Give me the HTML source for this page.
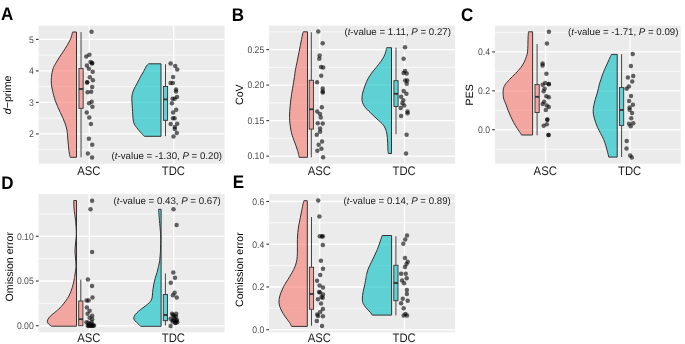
<!DOCTYPE html>
<html><head><meta charset="utf-8"><style>
html,body{margin:0;padding:0;background:#fff;width:685px;height:344px;overflow:hidden;font-family:"Liberation Sans",sans-serif;}
svg{display:block;will-change:transform;text-rendering:geometricPrecision;}
</style></head><body>
<svg width="685" height="344" viewBox="0 0 685 344" font-family="Liberation Sans, sans-serif">
<rect width="685" height="344" fill="#fff"/>
<rect x="38.6" y="25.7" width="186.00" height="138.00" fill="#EBEBEB"/>
<line x1="38.6" y1="149.65" x2="224.6" y2="149.65" stroke="#fff" stroke-width="0.7"/>
<line x1="38.6" y1="118.15" x2="224.6" y2="118.15" stroke="#fff" stroke-width="0.7"/>
<line x1="38.6" y1="86.65" x2="224.6" y2="86.65" stroke="#fff" stroke-width="0.7"/>
<line x1="38.6" y1="55.15" x2="224.6" y2="55.15" stroke="#fff" stroke-width="0.7"/>
<line x1="38.6" y1="133.9" x2="224.6" y2="133.9" stroke="#fff" stroke-width="1.35"/>
<line x1="38.6" y1="102.4" x2="224.6" y2="102.4" stroke="#fff" stroke-width="1.35"/>
<line x1="38.6" y1="70.9" x2="224.6" y2="70.9" stroke="#fff" stroke-width="1.35"/>
<line x1="38.6" y1="39.4" x2="224.6" y2="39.4" stroke="#fff" stroke-width="1.35"/>
<line x1="89.3" y1="25.7" x2="89.3" y2="163.7" stroke="#fff" stroke-width="1.35"/>
<line x1="173.8" y1="25.7" x2="173.8" y2="163.7" stroke="#fff" stroke-width="1.35"/>
<line x1="35.90" y1="133.9" x2="38.6" y2="133.9" stroke="#333" stroke-width="1.1"/>
<text transform="translate(33.70,137.20) scale(1,1.1)" font-size="8.65" fill="#4D4D4D" text-anchor="end">2</text>
<line x1="35.90" y1="102.4" x2="38.6" y2="102.4" stroke="#333" stroke-width="1.1"/>
<text transform="translate(33.70,105.70) scale(1,1.1)" font-size="8.65" fill="#4D4D4D" text-anchor="end">3</text>
<line x1="35.90" y1="70.9" x2="38.6" y2="70.9" stroke="#333" stroke-width="1.1"/>
<text transform="translate(33.70,74.20) scale(1,1.1)" font-size="8.65" fill="#4D4D4D" text-anchor="end">4</text>
<line x1="35.90" y1="39.4" x2="38.6" y2="39.4" stroke="#333" stroke-width="1.1"/>
<text transform="translate(33.70,42.70) scale(1,1.1)" font-size="8.65" fill="#4D4D4D" text-anchor="end">5</text>
<text transform="translate(88.90,174.60) scale(1,1.1)" font-size="11.3" fill="#1A1A1A" text-anchor="middle">ASC</text>
<text transform="translate(173.40,174.60) scale(1,1.1)" font-size="11.3" fill="#1A1A1A" text-anchor="middle">TDC</text>
<rect x="269.1" y="25.7" width="186.00" height="138.00" fill="#EBEBEB"/>
<line x1="269.1" y1="138.35" x2="455.1" y2="138.35" stroke="#fff" stroke-width="0.7"/>
<line x1="269.1" y1="102.85" x2="455.1" y2="102.85" stroke="#fff" stroke-width="0.7"/>
<line x1="269.1" y1="67.35" x2="455.1" y2="67.35" stroke="#fff" stroke-width="0.7"/>
<line x1="269.1" y1="31.85" x2="455.1" y2="31.85" stroke="#fff" stroke-width="0.7"/>
<line x1="269.1" y1="156.1" x2="455.1" y2="156.1" stroke="#fff" stroke-width="1.35"/>
<line x1="269.1" y1="120.6" x2="455.1" y2="120.6" stroke="#fff" stroke-width="1.35"/>
<line x1="269.1" y1="85.1" x2="455.1" y2="85.1" stroke="#fff" stroke-width="1.35"/>
<line x1="269.1" y1="49.6" x2="455.1" y2="49.6" stroke="#fff" stroke-width="1.35"/>
<line x1="319.7" y1="25.7" x2="319.7" y2="163.7" stroke="#fff" stroke-width="1.35"/>
<line x1="404.5" y1="25.7" x2="404.5" y2="163.7" stroke="#fff" stroke-width="1.35"/>
<line x1="266.40" y1="156.1" x2="269.1" y2="156.1" stroke="#333" stroke-width="1.1"/>
<text transform="translate(264.20,159.40) scale(1,1.1)" font-size="8.65" fill="#4D4D4D" text-anchor="end">0.10</text>
<line x1="266.40" y1="120.6" x2="269.1" y2="120.6" stroke="#333" stroke-width="1.1"/>
<text transform="translate(264.20,123.90) scale(1,1.1)" font-size="8.65" fill="#4D4D4D" text-anchor="end">0.15</text>
<line x1="266.40" y1="85.1" x2="269.1" y2="85.1" stroke="#333" stroke-width="1.1"/>
<text transform="translate(264.20,88.40) scale(1,1.1)" font-size="8.65" fill="#4D4D4D" text-anchor="end">0.20</text>
<line x1="266.40" y1="49.6" x2="269.1" y2="49.6" stroke="#333" stroke-width="1.1"/>
<text transform="translate(264.20,52.90) scale(1,1.1)" font-size="8.65" fill="#4D4D4D" text-anchor="end">0.25</text>
<text transform="translate(319.30,174.60) scale(1,1.1)" font-size="11.3" fill="#1A1A1A" text-anchor="middle">ASC</text>
<text transform="translate(404.10,174.60) scale(1,1.1)" font-size="11.3" fill="#1A1A1A" text-anchor="middle">TDC</text>
<rect x="494.9" y="25.7" width="185.90" height="138.00" fill="#EBEBEB"/>
<line x1="494.9" y1="149.15" x2="680.8" y2="149.15" stroke="#fff" stroke-width="0.7"/>
<line x1="494.9" y1="110.25" x2="680.8" y2="110.25" stroke="#fff" stroke-width="0.7"/>
<line x1="494.9" y1="71.35" x2="680.8" y2="71.35" stroke="#fff" stroke-width="0.7"/>
<line x1="494.9" y1="32.45" x2="680.8" y2="32.45" stroke="#fff" stroke-width="0.7"/>
<line x1="494.9" y1="129.7" x2="680.8" y2="129.7" stroke="#fff" stroke-width="1.35"/>
<line x1="494.9" y1="90.8" x2="680.8" y2="90.8" stroke="#fff" stroke-width="1.35"/>
<line x1="494.9" y1="51.9" x2="680.8" y2="51.9" stroke="#fff" stroke-width="1.35"/>
<line x1="545.6" y1="25.7" x2="545.6" y2="163.7" stroke="#fff" stroke-width="1.35"/>
<line x1="630.0" y1="25.7" x2="630.0" y2="163.7" stroke="#fff" stroke-width="1.35"/>
<line x1="492.20" y1="129.7" x2="494.9" y2="129.7" stroke="#333" stroke-width="1.1"/>
<text transform="translate(490.00,133.00) scale(1,1.1)" font-size="8.65" fill="#4D4D4D" text-anchor="end">0.0</text>
<line x1="492.20" y1="90.8" x2="494.9" y2="90.8" stroke="#333" stroke-width="1.1"/>
<text transform="translate(490.00,94.10) scale(1,1.1)" font-size="8.65" fill="#4D4D4D" text-anchor="end">0.2</text>
<line x1="492.20" y1="51.9" x2="494.9" y2="51.9" stroke="#333" stroke-width="1.1"/>
<text transform="translate(490.00,55.20) scale(1,1.1)" font-size="8.65" fill="#4D4D4D" text-anchor="end">0.4</text>
<text transform="translate(545.20,174.60) scale(1,1.1)" font-size="11.3" fill="#1A1A1A" text-anchor="middle">ASC</text>
<text transform="translate(629.60,174.60) scale(1,1.1)" font-size="11.3" fill="#1A1A1A" text-anchor="middle">TDC</text>
<rect x="38.6" y="194.1" width="186.00" height="138.20" fill="#EBEBEB"/>
<line x1="38.6" y1="303.35" x2="224.6" y2="303.35" stroke="#fff" stroke-width="0.7"/>
<line x1="38.6" y1="258.65" x2="224.6" y2="258.65" stroke="#fff" stroke-width="0.7"/>
<line x1="38.6" y1="213.95" x2="224.6" y2="213.95" stroke="#fff" stroke-width="0.7"/>
<line x1="38.6" y1="325.7" x2="224.6" y2="325.7" stroke="#fff" stroke-width="1.35"/>
<line x1="38.6" y1="281.0" x2="224.6" y2="281.0" stroke="#fff" stroke-width="1.35"/>
<line x1="38.6" y1="236.3" x2="224.6" y2="236.3" stroke="#fff" stroke-width="1.35"/>
<line x1="89.3" y1="194.1" x2="89.3" y2="332.3" stroke="#fff" stroke-width="1.35"/>
<line x1="173.8" y1="194.1" x2="173.8" y2="332.3" stroke="#fff" stroke-width="1.35"/>
<line x1="35.90" y1="325.7" x2="38.6" y2="325.7" stroke="#333" stroke-width="1.1"/>
<text transform="translate(33.70,329.00) scale(1,1.1)" font-size="8.65" fill="#4D4D4D" text-anchor="end">0.00</text>
<line x1="35.90" y1="281.0" x2="38.6" y2="281.0" stroke="#333" stroke-width="1.1"/>
<text transform="translate(33.70,284.30) scale(1,1.1)" font-size="8.65" fill="#4D4D4D" text-anchor="end">0.05</text>
<line x1="35.90" y1="236.3" x2="38.6" y2="236.3" stroke="#333" stroke-width="1.1"/>
<text transform="translate(33.70,239.60) scale(1,1.1)" font-size="8.65" fill="#4D4D4D" text-anchor="end">0.10</text>
<text transform="translate(88.90,342.00) scale(1,1.1)" font-size="11.3" fill="#1A1A1A" text-anchor="middle">ASC</text>
<text transform="translate(173.40,342.00) scale(1,1.1)" font-size="11.3" fill="#1A1A1A" text-anchor="middle">TDC</text>
<rect x="269.1" y="194.1" width="186.00" height="138.20" fill="#EBEBEB"/>
<line x1="269.1" y1="308.3" x2="455.1" y2="308.3" stroke="#fff" stroke-width="0.7"/>
<line x1="269.1" y1="265.6" x2="455.1" y2="265.6" stroke="#fff" stroke-width="0.7"/>
<line x1="269.1" y1="222.8" x2="455.1" y2="222.8" stroke="#fff" stroke-width="0.7"/>
<line x1="269.1" y1="329.7" x2="455.1" y2="329.7" stroke="#fff" stroke-width="1.35"/>
<line x1="269.1" y1="286.95" x2="455.1" y2="286.95" stroke="#fff" stroke-width="1.35"/>
<line x1="269.1" y1="244.2" x2="455.1" y2="244.2" stroke="#fff" stroke-width="1.35"/>
<line x1="269.1" y1="201.45" x2="455.1" y2="201.45" stroke="#fff" stroke-width="1.35"/>
<line x1="319.7" y1="194.1" x2="319.7" y2="332.3" stroke="#fff" stroke-width="1.35"/>
<line x1="404.5" y1="194.1" x2="404.5" y2="332.3" stroke="#fff" stroke-width="1.35"/>
<line x1="266.40" y1="329.7" x2="269.1" y2="329.7" stroke="#333" stroke-width="1.1"/>
<text transform="translate(264.20,333.00) scale(1,1.1)" font-size="8.65" fill="#4D4D4D" text-anchor="end">0.0</text>
<line x1="266.40" y1="286.95" x2="269.1" y2="286.95" stroke="#333" stroke-width="1.1"/>
<text transform="translate(264.20,290.25) scale(1,1.1)" font-size="8.65" fill="#4D4D4D" text-anchor="end">0.2</text>
<line x1="266.40" y1="244.2" x2="269.1" y2="244.2" stroke="#333" stroke-width="1.1"/>
<text transform="translate(264.20,247.50) scale(1,1.1)" font-size="8.65" fill="#4D4D4D" text-anchor="end">0.4</text>
<line x1="266.40" y1="201.45" x2="269.1" y2="201.45" stroke="#333" stroke-width="1.1"/>
<text transform="translate(264.20,204.75) scale(1,1.1)" font-size="8.65" fill="#4D4D4D" text-anchor="end">0.6</text>
<text transform="translate(319.30,342.00) scale(1,1.1)" font-size="11.3" fill="#1A1A1A" text-anchor="middle">ASC</text>
<text transform="translate(404.10,342.00) scale(1,1.1)" font-size="11.3" fill="#1A1A1A" text-anchor="middle">TDC</text>
<path d="M76.50,32.00 L72.60,32.00 C72.52,32.30 72.33,32.92 72.10,33.80 C71.87,34.68 71.60,36.13 71.20,37.30 C70.80,38.47 70.38,39.45 69.70,40.80 C69.02,42.15 68.15,43.65 67.10,45.40 C66.05,47.15 64.67,49.35 63.40,51.30 C62.13,53.25 60.73,55.17 59.50,57.10 C58.27,59.03 57.00,61.17 56.00,62.90 C55.00,64.63 54.15,65.90 53.50,67.50 C52.85,69.10 52.45,70.85 52.10,72.50 C51.75,74.15 51.52,75.42 51.40,77.40 C51.28,79.38 51.18,82.08 51.40,84.40 C51.62,86.72 52.32,89.45 52.70,91.30 C53.08,93.15 53.27,93.92 53.70,95.50 C54.13,97.08 54.65,98.95 55.30,100.80 C55.95,102.65 56.77,104.67 57.60,106.60 C58.43,108.53 59.40,110.45 60.30,112.40 C61.20,114.35 62.17,116.35 63.00,118.30 C63.83,120.25 64.65,122.17 65.30,124.10 C65.95,126.03 66.53,128.07 66.90,129.90 C67.27,131.73 67.33,133.38 67.50,135.10 C67.67,136.82 67.75,138.50 67.90,140.20 C68.05,141.90 68.23,143.62 68.40,145.30 C68.57,146.98 68.68,148.62 68.90,150.30 C69.12,151.98 69.47,154.23 69.70,155.40 C69.93,156.57 70.20,156.98 70.30,157.30 L76.50,157.30 Z" fill="#F8766D" fill-opacity="0.6" stroke="#333" stroke-width="1.0" stroke-linejoin="round"/>
<path d="M161.00,63.80 L148.70,63.80 C148.35,64.13 147.47,64.50 146.60,65.80 C145.73,67.10 144.57,69.67 143.50,71.60 C142.43,73.53 141.27,75.45 140.20,77.40 C139.13,79.35 138.13,81.35 137.10,83.30 C136.07,85.25 134.78,87.37 134.00,89.10 C133.22,90.83 132.77,92.15 132.40,93.70 C132.03,95.25 131.83,96.38 131.80,98.40 C131.77,100.42 132.07,103.60 132.20,105.80 C132.33,108.00 132.48,109.67 132.60,111.60 C132.72,113.53 132.73,115.65 132.90,117.40 C133.07,119.15 133.22,120.73 133.60,122.10 C133.98,123.47 134.48,124.43 135.20,125.60 C135.92,126.77 136.97,127.93 137.90,129.10 C138.83,130.27 139.93,131.63 140.80,132.60 C141.67,133.57 142.52,134.28 143.10,134.90 C143.68,135.52 144.10,136.07 144.30,136.30 L161.00,136.30 Z" fill="#00BFC4" fill-opacity="0.6" stroke="#333" stroke-width="1.0" stroke-linejoin="round"/>
<path d="M307.50,31.80 L303.30,31.80 C303.20,32.13 303.00,32.50 302.70,33.80 C302.40,35.10 301.90,37.67 301.50,39.60 C301.10,41.53 300.68,43.45 300.30,45.40 C299.92,47.35 299.58,49.35 299.20,51.30 C298.82,53.25 298.38,55.17 298.00,57.10 C297.62,59.03 297.25,61.17 296.90,62.90 C296.55,64.63 296.17,66.18 295.90,67.50 C295.63,68.82 295.53,69.28 295.30,70.80 C295.07,72.32 294.78,74.67 294.50,76.60 C294.22,78.53 293.92,80.45 293.60,82.40 C293.28,84.35 292.93,86.35 292.60,88.30 C292.27,90.25 291.90,92.17 291.60,94.10 C291.30,96.03 291.03,97.95 290.80,99.90 C290.57,101.85 290.38,103.85 290.20,105.80 C290.02,107.75 289.82,109.67 289.70,111.60 C289.58,113.53 289.47,115.45 289.50,117.40 C289.53,119.35 289.70,121.35 289.90,123.30 C290.10,125.25 290.33,127.13 290.70,129.10 C291.07,131.07 291.57,133.25 292.10,135.10 C292.63,136.95 293.28,138.50 293.90,140.20 C294.52,141.90 295.20,143.62 295.80,145.30 C296.40,146.98 297.00,148.62 297.50,150.30 C298.00,151.98 298.53,154.23 298.80,155.40 C299.07,156.57 299.05,156.98 299.10,157.30 L307.50,157.30 Z" fill="#F8766D" fill-opacity="0.6" stroke="#333" stroke-width="1.0" stroke-linejoin="round"/>
<path d="M391.50,47.70 L386.70,47.70 C386.62,48.05 386.43,48.87 386.20,49.80 C385.97,50.73 385.70,52.13 385.30,53.30 C384.90,54.47 384.53,55.45 383.80,56.80 C383.07,58.15 382.15,59.65 380.90,61.40 C379.65,63.15 377.85,65.35 376.30,67.30 C374.75,69.25 373.00,71.17 371.60,73.10 C370.20,75.03 368.87,77.17 367.90,78.90 C366.93,80.63 366.52,81.70 365.80,83.50 C365.08,85.30 364.17,87.90 363.60,89.70 C363.03,91.50 362.67,92.75 362.40,94.30 C362.13,95.85 361.98,97.65 362.00,99.00 C362.02,100.35 362.13,101.25 362.50,102.40 C362.87,103.55 363.45,104.73 364.20,105.90 C364.95,107.07 365.93,108.23 367.00,109.40 C368.07,110.57 369.40,111.73 370.60,112.90 C371.80,114.07 372.93,115.22 374.20,116.40 C375.47,117.58 376.90,118.82 378.20,120.00 C379.50,121.18 380.93,122.33 382.00,123.50 C383.07,124.67 383.87,125.65 384.60,127.00 C385.33,128.35 385.95,129.87 386.40,131.60 C386.85,133.33 387.08,135.45 387.30,137.40 C387.52,139.35 387.60,141.35 387.70,143.30 C387.80,145.25 387.80,147.40 387.90,149.10 C388.00,150.80 388.23,152.77 388.30,153.50 L391.50,153.50 Z" fill="#00BFC4" fill-opacity="0.6" stroke="#333" stroke-width="1.0" stroke-linejoin="round"/>
<path d="M532.60,31.80 L528.50,31.80 C528.47,32.13 528.38,32.50 528.30,33.80 C528.22,35.10 528.07,37.67 528.00,39.60 C527.93,41.53 527.97,43.45 527.90,45.40 C527.83,47.35 527.75,49.75 527.60,51.30 C527.45,52.85 527.30,53.55 527.00,54.70 C526.70,55.85 526.30,56.90 525.80,58.20 C525.30,59.50 524.83,60.93 524.00,62.50 C523.17,64.07 522.23,65.75 520.80,67.60 C519.37,69.45 517.27,71.63 515.40,73.60 C513.53,75.57 511.38,77.45 509.60,79.40 C507.82,81.35 505.77,83.55 504.70,85.30 C503.63,87.05 503.45,88.35 503.20,89.90 C502.95,91.45 503.10,93.05 503.20,94.60 C503.30,96.15 503.35,97.62 503.80,99.20 C504.25,100.78 505.20,102.27 505.90,104.10 C506.60,105.93 507.22,108.17 508.00,110.20 C508.78,112.23 509.67,114.27 510.60,116.30 C511.53,118.33 512.48,120.37 513.60,122.40 C514.72,124.43 516.13,126.67 517.30,128.50 C518.47,130.33 519.92,132.32 520.60,133.40 C521.28,134.48 521.27,134.73 521.40,135.00 L532.60,135.00 Z" fill="#F8766D" fill-opacity="0.6" stroke="#333" stroke-width="1.0" stroke-linejoin="round"/>
<path d="M617.20,54.40 L611.50,54.40 C611.12,55.22 609.93,57.70 609.20,59.30 C608.47,60.90 607.80,62.45 607.10,64.00 C606.40,65.55 605.68,67.05 605.00,68.60 C604.32,70.15 603.67,71.55 603.00,73.30 C602.33,75.05 601.63,77.17 601.00,79.10 C600.37,81.03 599.63,83.33 599.20,84.90 C598.77,86.47 598.77,87.02 598.40,88.50 C598.03,89.98 597.53,91.95 597.00,93.80 C596.47,95.65 595.73,97.67 595.20,99.60 C594.67,101.53 594.15,103.45 593.80,105.40 C593.45,107.35 593.07,109.35 593.10,111.30 C593.13,113.25 593.58,115.23 594.00,117.10 C594.42,118.97 594.98,120.73 595.60,122.50 C596.22,124.27 596.85,125.85 597.70,127.70 C598.55,129.55 599.72,131.65 600.70,133.60 C601.68,135.55 602.77,137.45 603.60,139.40 C604.43,141.35 605.08,143.35 605.70,145.30 C606.32,147.25 606.78,149.13 607.30,151.10 C607.82,153.07 608.55,156.10 608.80,157.10 L617.20,157.10 Z" fill="#00BFC4" fill-opacity="0.6" stroke="#333" stroke-width="1.0" stroke-linejoin="round"/>
<path d="M76.50,200.50 L73.80,200.50 C73.83,201.77 73.83,205.75 74.00,208.10 C74.17,210.45 74.52,212.43 74.80,214.60 C75.08,216.77 75.48,218.92 75.70,221.10 C75.92,223.28 76.00,225.38 76.10,227.70 C76.20,230.02 76.38,232.45 76.30,235.00 C76.22,237.55 75.82,240.33 75.60,243.00 C75.38,245.67 75.00,248.33 75.00,251.00 C75.00,253.67 75.43,256.33 75.60,259.00 C75.77,261.67 76.12,264.33 76.00,267.00 C75.88,269.67 75.22,272.83 74.90,275.00 C74.58,277.17 74.53,277.92 74.10,280.00 C73.67,282.08 73.18,284.80 72.30,287.50 C71.42,290.20 70.40,293.30 68.80,296.20 C67.20,299.10 64.58,302.57 62.70,304.90 C60.82,307.23 59.25,308.60 57.50,310.20 C55.75,311.80 53.67,313.20 52.20,314.50 C50.73,315.80 49.52,316.83 48.70,318.00 C47.88,319.17 47.30,320.48 47.30,321.50 C47.30,322.52 48.02,323.32 48.70,324.10 C49.38,324.88 50.95,325.85 51.40,326.20 L76.50,326.20 Z" fill="#F8766D" fill-opacity="0.6" stroke="#333" stroke-width="1.0" stroke-linejoin="round"/>
<path d="M161.10,209.30 L158.60,209.30 C158.70,210.72 158.93,214.52 159.20,217.80 C159.47,221.08 159.95,225.80 160.20,229.00 C160.45,232.20 160.65,233.53 160.70,237.00 C160.75,240.47 160.58,246.80 160.50,249.80 C160.42,252.80 160.33,253.17 160.20,255.00 C160.07,256.83 159.98,258.87 159.70,260.80 C159.42,262.73 158.95,264.67 158.50,266.60 C158.05,268.53 157.55,270.45 157.00,272.40 C156.45,274.35 155.73,276.35 155.20,278.30 C154.67,280.25 154.18,282.17 153.80,284.10 C153.42,286.03 153.13,288.08 152.90,289.90 C152.67,291.72 152.58,293.48 152.40,295.00 C152.22,296.52 152.28,297.75 151.80,299.00 C151.32,300.25 150.57,301.33 149.50,302.50 C148.43,303.67 146.85,304.85 145.40,306.00 C143.95,307.15 142.25,308.25 140.80,309.40 C139.35,310.55 137.80,311.73 136.70,312.90 C135.60,314.07 134.65,315.33 134.20,316.40 C133.75,317.47 133.63,318.33 134.00,319.30 C134.37,320.27 135.57,321.32 136.40,322.20 C137.23,323.08 138.30,323.92 139.00,324.60 C139.70,325.28 140.33,326.02 140.60,326.30 L161.10,326.30 Z" fill="#00BFC4" fill-opacity="0.6" stroke="#333" stroke-width="1.0" stroke-linejoin="round"/>
<path d="M307.30,200.70 L303.90,200.70 C303.78,201.13 303.57,201.65 303.20,203.30 C302.83,204.95 302.18,208.18 301.70,210.60 C301.22,213.02 300.78,215.38 300.30,217.80 C299.82,220.22 299.22,222.67 298.80,225.10 C298.38,227.53 298.03,229.97 297.80,232.40 C297.57,234.83 297.47,237.35 297.40,239.70 C297.33,242.05 297.40,244.27 297.40,246.50 C297.40,248.73 297.48,250.92 297.40,253.10 C297.32,255.28 297.27,257.43 296.90,259.60 C296.53,261.77 296.02,263.92 295.20,266.10 C294.38,268.28 293.18,270.52 292.00,272.70 C290.82,274.88 289.30,277.25 288.10,279.20 C286.90,281.15 285.73,282.77 284.80,284.40 C283.87,286.03 283.33,287.07 282.50,289.00 C281.67,290.93 280.38,293.67 279.80,296.00 C279.22,298.33 278.78,300.68 279.00,303.00 C279.22,305.32 280.05,307.58 281.10,309.90 C282.15,312.22 283.90,314.80 285.30,316.90 C286.70,319.00 288.45,320.92 289.50,322.50 C290.55,324.08 291.25,325.75 291.60,326.40 L307.30,326.40 Z" fill="#F8766D" fill-opacity="0.6" stroke="#333" stroke-width="1.0" stroke-linejoin="round"/>
<path d="M391.60,235.50 L382.20,235.50 C381.98,236.12 381.33,237.93 380.90,239.20 C380.47,240.47 380.20,241.37 379.60,243.10 C379.00,244.83 378.18,247.43 377.30,249.60 C376.42,251.77 375.33,253.92 374.30,256.10 C373.27,258.28 372.13,260.52 371.10,262.70 C370.07,264.88 368.85,267.25 368.10,269.20 C367.35,271.15 366.93,273.05 366.60,274.40 C366.27,275.75 366.40,275.62 366.10,277.30 C365.80,278.98 365.30,282.08 364.80,284.50 C364.30,286.92 363.52,289.37 363.10,291.80 C362.68,294.23 362.28,297.15 362.30,299.10 C362.32,301.05 362.57,302.05 363.20,303.50 C363.83,304.95 364.93,306.35 366.10,307.80 C367.27,309.25 369.18,310.98 370.20,312.20 C371.22,313.42 371.87,314.62 372.20,315.10 L391.60,315.10 Z" fill="#00BFC4" fill-opacity="0.6" stroke="#333" stroke-width="1.0" stroke-linejoin="round"/>
<line x1="81.05" y1="32.2" x2="81.05" y2="68.6" stroke="#333" stroke-width="0.9"/>
<line x1="81.05" y1="108.3" x2="81.05" y2="157.3" stroke="#333" stroke-width="0.9"/>
<rect x="78.95" y="68.6" width="4.20" height="39.70" fill="#F8766D" fill-opacity="0.6" stroke="#333" stroke-width="0.9"/>
<line x1="78.95" y1="89.0" x2="83.15" y2="89.0" stroke="#333" stroke-width="1.8"/>
<line x1="165.5" y1="64.2" x2="165.5" y2="86.5" stroke="#333" stroke-width="0.9"/>
<line x1="165.5" y1="120.3" x2="165.5" y2="136.1" stroke="#333" stroke-width="0.9"/>
<rect x="163.4" y="86.5" width="4.20" height="33.80" fill="#00BFC4" fill-opacity="0.6" stroke="#333" stroke-width="0.9"/>
<line x1="163.4" y1="99.4" x2="167.6" y2="99.4" stroke="#333" stroke-width="1.8"/>
<line x1="311.3" y1="32.3" x2="311.3" y2="80.3" stroke="#333" stroke-width="0.9"/>
<line x1="311.3" y1="129.1" x2="311.3" y2="157.3" stroke="#333" stroke-width="0.9"/>
<rect x="309.2" y="80.3" width="4.20" height="48.80" fill="#F8766D" fill-opacity="0.6" stroke="#333" stroke-width="0.9"/>
<line x1="309.2" y1="109.3" x2="313.4" y2="109.3" stroke="#333" stroke-width="1.8"/>
<line x1="396.0" y1="47.7" x2="396.0" y2="80.7" stroke="#333" stroke-width="0.9"/>
<line x1="396.0" y1="106.5" x2="396.0" y2="134.2" stroke="#333" stroke-width="0.9"/>
<rect x="393.9" y="80.7" width="4.20" height="25.80" fill="#00BFC4" fill-opacity="0.6" stroke="#333" stroke-width="0.9"/>
<line x1="393.9" y1="93.8" x2="398.1" y2="93.8" stroke="#333" stroke-width="1.8"/>
<line x1="537.1" y1="44.0" x2="537.1" y2="84.6" stroke="#333" stroke-width="0.9"/>
<line x1="537.1" y1="112.5" x2="537.1" y2="135.3" stroke="#333" stroke-width="0.9"/>
<rect x="535.0" y="84.6" width="4.20" height="27.90" fill="#F8766D" fill-opacity="0.6" stroke="#333" stroke-width="0.9"/>
<line x1="535.0" y1="96.8" x2="539.2" y2="96.8" stroke="#333" stroke-width="1.8"/>
<line x1="621.6" y1="54.2" x2="621.6" y2="87.6" stroke="#333" stroke-width="0.9"/>
<line x1="621.6" y1="125.4" x2="621.6" y2="157.0" stroke="#333" stroke-width="0.9"/>
<rect x="619.5" y="87.6" width="4.20" height="37.80" fill="#00BFC4" fill-opacity="0.6" stroke="#333" stroke-width="0.9"/>
<line x1="619.5" y1="110.0" x2="623.7" y2="110.0" stroke="#333" stroke-width="1.8"/>
<line x1="80.8" y1="279.6" x2="80.8" y2="301.0" stroke="#333" stroke-width="0.9"/>
<line x1="80.8" y1="325.7" x2="80.8" y2="325.8" stroke="#333" stroke-width="0.9"/>
<rect x="78.7" y="301.0" width="4.20" height="24.70" fill="#F8766D" fill-opacity="0.6" stroke="#333" stroke-width="0.9"/>
<line x1="78.7" y1="319.2" x2="82.9" y2="319.2" stroke="#333" stroke-width="1.8"/>
<line x1="165.4" y1="273.5" x2="165.4" y2="294.5" stroke="#333" stroke-width="0.9"/>
<line x1="165.4" y1="320.7" x2="165.4" y2="325.6" stroke="#333" stroke-width="0.9"/>
<rect x="163.3" y="294.5" width="4.20" height="26.20" fill="#00BFC4" fill-opacity="0.6" stroke="#333" stroke-width="0.9"/>
<line x1="163.3" y1="315.0" x2="167.5" y2="315.0" stroke="#333" stroke-width="1.8"/>
<line x1="311.5" y1="217.0" x2="311.5" y2="267.2" stroke="#333" stroke-width="0.9"/>
<line x1="311.5" y1="309.2" x2="311.5" y2="325.7" stroke="#333" stroke-width="0.9"/>
<rect x="309.4" y="267.2" width="4.20" height="42.00" fill="#F8766D" fill-opacity="0.6" stroke="#333" stroke-width="0.9"/>
<line x1="309.4" y1="294.0" x2="313.6" y2="294.0" stroke="#333" stroke-width="1.8"/>
<line x1="395.9" y1="236.2" x2="395.9" y2="265.3" stroke="#333" stroke-width="0.9"/>
<line x1="395.9" y1="300.7" x2="395.9" y2="315.4" stroke="#333" stroke-width="0.9"/>
<rect x="393.8" y="265.3" width="4.20" height="35.40" fill="#00BFC4" fill-opacity="0.6" stroke="#333" stroke-width="0.9"/>
<line x1="393.8" y1="283.0" x2="398.0" y2="283.0" stroke="#333" stroke-width="1.8"/>
<g fill="#000" fill-opacity="0.6">
<circle cx="91.5" cy="31.8" r="2.25"/>
<circle cx="89.4" cy="54.7" r="2.25"/>
<circle cx="86.3" cy="56.5" r="2.25"/>
<circle cx="90.5" cy="62.1" r="2.25"/>
<circle cx="92.2" cy="63.1" r="2.25"/>
<circle cx="86.9" cy="65.6" r="2.25"/>
<circle cx="88.9" cy="68.7" r="2.25"/>
<circle cx="92.7" cy="71.7" r="2.25"/>
<circle cx="89.8" cy="77.3" r="2.25"/>
<circle cx="92.9" cy="80.3" r="2.25"/>
<circle cx="87.1" cy="82.4" r="2.25"/>
<circle cx="92.2" cy="87" r="2.25"/>
<circle cx="91.2" cy="91.7" r="2.25"/>
<circle cx="87.6" cy="92.3" r="2.25"/>
<circle cx="91.7" cy="101.7" r="2.25"/>
<circle cx="89.1" cy="103.2" r="2.25"/>
<circle cx="92.4" cy="106.8" r="2.25"/>
<circle cx="86.8" cy="112.4" r="2.25"/>
<circle cx="89.3" cy="117.6" r="2.25"/>
<circle cx="90.9" cy="123.9" r="2.25"/>
<circle cx="88.9" cy="138.8" r="2.25"/>
<circle cx="92.2" cy="144.7" r="2.25"/>
<circle cx="87.9" cy="153.6" r="2.25"/>
<circle cx="92.1" cy="157.5" r="2.25"/>
<circle cx="170.6" cy="63.6" r="2.25"/>
<circle cx="175.2" cy="66.1" r="2.25"/>
<circle cx="177.2" cy="69.4" r="2.25"/>
<circle cx="173.1" cy="77.1" r="2.25"/>
<circle cx="170.6" cy="82.9" r="2.25"/>
<circle cx="172.9" cy="82.9" r="2.25"/>
<circle cx="176" cy="89.5" r="2.25"/>
<circle cx="176" cy="91.6" r="2.25"/>
<circle cx="177" cy="97.1" r="2.25"/>
<circle cx="174.6" cy="98.7" r="2.25"/>
<circle cx="172.6" cy="98.7" r="2.25"/>
<circle cx="171.9" cy="103.2" r="2.25"/>
<circle cx="176.2" cy="109.8" r="2.25"/>
<circle cx="173.1" cy="112.4" r="2.25"/>
<circle cx="173" cy="118.3" r="2.25"/>
<circle cx="174.6" cy="118.3" r="2.25"/>
<circle cx="170.7" cy="124" r="2.25"/>
<circle cx="177.2" cy="123.7" r="2.25"/>
<circle cx="174.8" cy="127" r="2.25"/>
<circle cx="174.8" cy="129" r="2.25"/>
<circle cx="176.8" cy="132.9" r="2.25"/>
<circle cx="173.5" cy="136.4" r="2.25"/>
<circle cx="318.3" cy="31.6" r="2.25"/>
<circle cx="322.7" cy="43.3" r="2.25"/>
<circle cx="319.6" cy="55.4" r="2.25"/>
<circle cx="319.3" cy="58.7" r="2.25"/>
<circle cx="321" cy="67.1" r="2.25"/>
<circle cx="323.2" cy="67.6" r="2.25"/>
<circle cx="321.2" cy="75.8" r="2.25"/>
<circle cx="317.1" cy="82.2" r="2.25"/>
<circle cx="322.7" cy="88.5" r="2.25"/>
<circle cx="322.7" cy="91.5" r="2.25"/>
<circle cx="321.8" cy="107.3" r="2.25"/>
<circle cx="317.2" cy="111.4" r="2.25"/>
<circle cx="320" cy="113.9" r="2.25"/>
<circle cx="320.8" cy="117.5" r="2.25"/>
<circle cx="317.8" cy="123.2" r="2.25"/>
<circle cx="322.7" cy="123.5" r="2.25"/>
<circle cx="320.1" cy="128.5" r="2.25"/>
<circle cx="320.1" cy="131.7" r="2.25"/>
<circle cx="316.8" cy="134.8" r="2.25"/>
<circle cx="322" cy="141.6" r="2.25"/>
<circle cx="318.7" cy="144.8" r="2.25"/>
<circle cx="321.4" cy="148.8" r="2.25"/>
<circle cx="317.4" cy="150.7" r="2.25"/>
<circle cx="323.1" cy="157.3" r="2.25"/>
<circle cx="405" cy="47.3" r="2.25"/>
<circle cx="403.6" cy="58.8" r="2.25"/>
<circle cx="405" cy="70.9" r="2.25"/>
<circle cx="403.6" cy="73" r="2.25"/>
<circle cx="406.7" cy="73.5" r="2.25"/>
<circle cx="405.2" cy="80.6" r="2.25"/>
<circle cx="407.2" cy="80.6" r="2.25"/>
<circle cx="406.7" cy="83.7" r="2.25"/>
<circle cx="403.7" cy="91.1" r="2.25"/>
<circle cx="406.4" cy="93.7" r="2.25"/>
<circle cx="401.1" cy="96.7" r="2.25"/>
<circle cx="403.3" cy="100.2" r="2.25"/>
<circle cx="402.4" cy="103.3" r="2.25"/>
<circle cx="404.2" cy="105.5" r="2.25"/>
<circle cx="400.7" cy="107.9" r="2.25"/>
<circle cx="407.5" cy="111.6" r="2.25"/>
<circle cx="407.5" cy="113.3" r="2.25"/>
<circle cx="401.1" cy="116" r="2.25"/>
<circle cx="406.6" cy="134.7" r="2.25"/>
<circle cx="406" cy="153.4" r="2.25"/>
<circle cx="548.9" cy="31.8" r="2.25"/>
<circle cx="546.9" cy="43.6" r="2.25"/>
<circle cx="542.6" cy="63.6" r="2.25"/>
<circle cx="542.6" cy="65.6" r="2.25"/>
<circle cx="546.4" cy="73.7" r="2.25"/>
<circle cx="545.2" cy="83" r="2.25"/>
<circle cx="548.8" cy="84" r="2.25"/>
<circle cx="542.7" cy="84.8" r="2.25"/>
<circle cx="544.6" cy="88.8" r="2.25"/>
<circle cx="543.6" cy="91.3" r="2.25"/>
<circle cx="546.3" cy="96.3" r="2.25"/>
<circle cx="548.8" cy="97.3" r="2.25"/>
<circle cx="544.2" cy="101.8" r="2.25"/>
<circle cx="542.7" cy="103.9" r="2.25"/>
<circle cx="546.8" cy="105.4" r="2.25"/>
<circle cx="548.8" cy="106.9" r="2.25"/>
<circle cx="545.8" cy="110" r="2.25"/>
<circle cx="547.3" cy="119.7" r="2.25"/>
<circle cx="546.8" cy="124.3" r="2.25"/>
<circle cx="543.7" cy="125.8" r="2.25"/>
<circle cx="548.5" cy="135" r="2.25"/>
<circle cx="632.7" cy="54.1" r="2.25"/>
<circle cx="630.9" cy="66.1" r="2.25"/>
<circle cx="627.9" cy="77.4" r="2.25"/>
<circle cx="633.2" cy="75.9" r="2.25"/>
<circle cx="632.2" cy="81.6" r="2.25"/>
<circle cx="628.9" cy="86.6" r="2.25"/>
<circle cx="626.6" cy="88.7" r="2.25"/>
<circle cx="631" cy="96.1" r="2.25"/>
<circle cx="629.1" cy="101.1" r="2.25"/>
<circle cx="632.9" cy="104.7" r="2.25"/>
<circle cx="629.6" cy="107.6" r="2.25"/>
<circle cx="629.6" cy="109.7" r="2.25"/>
<circle cx="632" cy="113.1" r="2.25"/>
<circle cx="631.2" cy="118.2" r="2.25"/>
<circle cx="629.1" cy="123.7" r="2.25"/>
<circle cx="633.2" cy="123.2" r="2.25"/>
<circle cx="630.7" cy="126.3" r="2.25"/>
<circle cx="626.7" cy="141" r="2.25"/>
<circle cx="626.5" cy="148.6" r="2.25"/>
<circle cx="630.2" cy="155.5" r="2.25"/>
<circle cx="631.8" cy="157.6" r="2.25"/>
<circle cx="92.1" cy="200.7" r="2.25"/>
<circle cx="90.5" cy="209.2" r="2.25"/>
<circle cx="92.1" cy="251.9" r="2.25"/>
<circle cx="87.9" cy="279.4" r="2.25"/>
<circle cx="92" cy="285.9" r="2.25"/>
<circle cx="92.5" cy="297.4" r="2.25"/>
<circle cx="86.6" cy="300.5" r="2.25"/>
<circle cx="88.6" cy="300.5" r="2.25"/>
<circle cx="86.9" cy="307.6" r="2.25"/>
<circle cx="89.6" cy="310.7" r="2.25"/>
<circle cx="87.6" cy="313.7" r="2.25"/>
<circle cx="92.2" cy="315.7" r="2.25"/>
<circle cx="89.6" cy="317.8" r="2.25"/>
<circle cx="92.2" cy="319.3" r="2.25"/>
<circle cx="86.5" cy="322.2" r="2.25"/>
<circle cx="88.4" cy="322.8" r="2.25"/>
<circle cx="91.6" cy="322.2" r="2.25"/>
<circle cx="87.8" cy="325.5" r="2.25"/>
<circle cx="89.6" cy="325.7" r="2.25"/>
<circle cx="91.6" cy="325.7" r="2.25"/>
<circle cx="93.2" cy="325.4" r="2.25"/>
<circle cx="173.5" cy="209.2" r="2.25"/>
<circle cx="176.6" cy="225.1" r="2.25"/>
<circle cx="173.3" cy="272.6" r="2.25"/>
<circle cx="175" cy="277.8" r="2.25"/>
<circle cx="170.8" cy="282.7" r="2.25"/>
<circle cx="174.6" cy="292.7" r="2.25"/>
<circle cx="172.9" cy="295.2" r="2.25"/>
<circle cx="176.7" cy="297.6" r="2.25"/>
<circle cx="172.1" cy="313.7" r="2.25"/>
<circle cx="176.2" cy="313.7" r="2.25"/>
<circle cx="174.1" cy="316.2" r="2.25"/>
<circle cx="170.6" cy="318.8" r="2.25"/>
<circle cx="173.1" cy="320.3" r="2.25"/>
<circle cx="176.2" cy="320.8" r="2.25"/>
<circle cx="177.2" cy="322.3" r="2.25"/>
<circle cx="175.2" cy="322.8" r="2.25"/>
<circle cx="170.6" cy="325.9" r="2.25"/>
<circle cx="318.2" cy="200.5" r="2.25"/>
<circle cx="319.4" cy="216.4" r="2.25"/>
<circle cx="319.8" cy="236.3" r="2.25"/>
<circle cx="322.8" cy="236.3" r="2.25"/>
<circle cx="322.8" cy="244.9" r="2.25"/>
<circle cx="320.9" cy="260.8" r="2.25"/>
<circle cx="323" cy="268.7" r="2.25"/>
<circle cx="320.2" cy="275" r="2.25"/>
<circle cx="317.1" cy="280.7" r="2.25"/>
<circle cx="319.6" cy="285.5" r="2.25"/>
<circle cx="323" cy="287.5" r="2.25"/>
<circle cx="319.1" cy="292.1" r="2.25"/>
<circle cx="323" cy="294.6" r="2.25"/>
<circle cx="322.7" cy="297.7" r="2.25"/>
<circle cx="317.9" cy="299.2" r="2.25"/>
<circle cx="321" cy="303.5" r="2.25"/>
<circle cx="322.9" cy="308.9" r="2.25"/>
<circle cx="320.2" cy="312" r="2.25"/>
<circle cx="317.2" cy="314.6" r="2.25"/>
<circle cx="318.1" cy="315.9" r="2.25"/>
<circle cx="322.9" cy="316.3" r="2.25"/>
<circle cx="316.8" cy="321.1" r="2.25"/>
<circle cx="322" cy="325.9" r="2.25"/>
<circle cx="407" cy="235.6" r="2.25"/>
<circle cx="405.2" cy="239.6" r="2.25"/>
<circle cx="403.3" cy="243.7" r="2.25"/>
<circle cx="405" cy="257.9" r="2.25"/>
<circle cx="407.7" cy="261.8" r="2.25"/>
<circle cx="406.5" cy="264" r="2.25"/>
<circle cx="405" cy="267.1" r="2.25"/>
<circle cx="401.1" cy="273.7" r="2.25"/>
<circle cx="405.7" cy="273.7" r="2.25"/>
<circle cx="406.7" cy="278.3" r="2.25"/>
<circle cx="402.1" cy="280.5" r="2.25"/>
<circle cx="404.1" cy="283.2" r="2.25"/>
<circle cx="406.8" cy="290" r="2.25"/>
<circle cx="406.8" cy="293.9" r="2.25"/>
<circle cx="402.8" cy="298.7" r="2.25"/>
<circle cx="407.7" cy="300.7" r="2.25"/>
<circle cx="401.1" cy="303.3" r="2.25"/>
<circle cx="403.7" cy="308.3" r="2.25"/>
<circle cx="403.7" cy="315.4" r="2.25"/>
<circle cx="407" cy="315.4" r="2.25"/>
<circle cx="405.4" cy="314.1" r="2.25"/>
<circle cx="92.0" cy="63.4" r="2.25"/>
<circle cx="87.3" cy="82.2" r="2.25"/>
<circle cx="322.8" cy="92.6" r="2.25"/>
<circle cx="548.8" cy="84.2" r="2.25"/>
<circle cx="547.3" cy="119.6" r="2.25"/>
<circle cx="548.5" cy="135.0" r="2.25"/>
<circle cx="173" cy="315" r="2.25"/>
<circle cx="176" cy="316.5" r="2.25"/>
<circle cx="174.5" cy="318.5" r="2.25"/>
<circle cx="177" cy="320" r="2.25"/>
<circle cx="172.5" cy="321.5" r="2.25"/>
<circle cx="175.5" cy="323" r="2.25"/>
<circle cx="88.5" cy="325.9" r="2.25"/>
<circle cx="90.5" cy="325.5" r="2.25"/>
<circle cx="92.5" cy="325.8" r="2.25"/>
<circle cx="94" cy="325.6" r="2.25"/>
<circle cx="89.5" cy="324.6" r="2.25"/>
<circle cx="91.5" cy="324.3" r="2.25"/>
<circle cx="322.0" cy="236.5" r="2.25"/>
<circle cx="321.5" cy="297.0" r="2.25"/>
<circle cx="320.0" cy="292.5" r="2.25"/>
</g>
<text x="222.0" y="158.5" font-size="9.7" fill="#1A1A1A" text-anchor="end">(<tspan font-style="italic">t</tspan>-value = -1.30, <tspan font-style="italic">P</tspan> = 0.20)</text>
<text x="450.9" y="35.0" font-size="9.7" fill="#1A1A1A" text-anchor="end">(<tspan font-style="italic">t</tspan>-value = 1.11, <tspan font-style="italic">P</tspan> = 0.27)</text>
<text x="678.4" y="34.9" font-size="9.7" fill="#1A1A1A" text-anchor="end">(<tspan font-style="italic">t</tspan>-value = -1.71, <tspan font-style="italic">P</tspan> = 0.09)</text>
<text x="220.8" y="203.9" font-size="9.7" fill="#1A1A1A" text-anchor="end">(<tspan font-style="italic">t</tspan>-value = 0.43, <tspan font-style="italic">P</tspan> = 0.67)</text>
<text x="450.8" y="203.9" font-size="9.7" fill="#1A1A1A" text-anchor="end">(<tspan font-style="italic">t</tspan>-value = 0.14, <tspan font-style="italic">P</tspan> = 0.89)</text>
<text transform="translate(11.2,94.85) rotate(-90)" font-size="10.6" fill="#000" text-anchor="middle"><tspan font-style="italic">d</tspan>−prime</text>
<text transform="translate(242.8,94.7) rotate(-90)" font-size="10.6" fill="#000" text-anchor="middle">CoV</text>
<text transform="translate(473.2,94.8) rotate(-90)" font-size="10.6" fill="#000" text-anchor="middle">PES</text>
<text transform="translate(13.0,266.7) rotate(-90)" font-size="10.6" fill="#000" text-anchor="middle">Omission error</text>
<text transform="translate(243.0,269.65) rotate(-90)" font-size="10.6" fill="#000" text-anchor="middle">Comission error</text>
<text transform="translate(0.9,20.3) scale(1,1.08)" font-size="17" font-weight="bold" fill="#000">A</text>
<text transform="translate(231.8,20.8) scale(1,1.08)" font-size="17" font-weight="bold" fill="#000">B</text>
<text transform="translate(461.0,20.8) scale(1,1.08)" font-size="17" font-weight="bold" fill="#000">C</text>
<text transform="translate(1.2,189.0) scale(1,1.08)" font-size="17" font-weight="bold" fill="#000">D</text>
<text transform="translate(232.8,188.0) scale(1,1.08)" font-size="17" font-weight="bold" fill="#000">E</text>
</svg>
</body></html>
